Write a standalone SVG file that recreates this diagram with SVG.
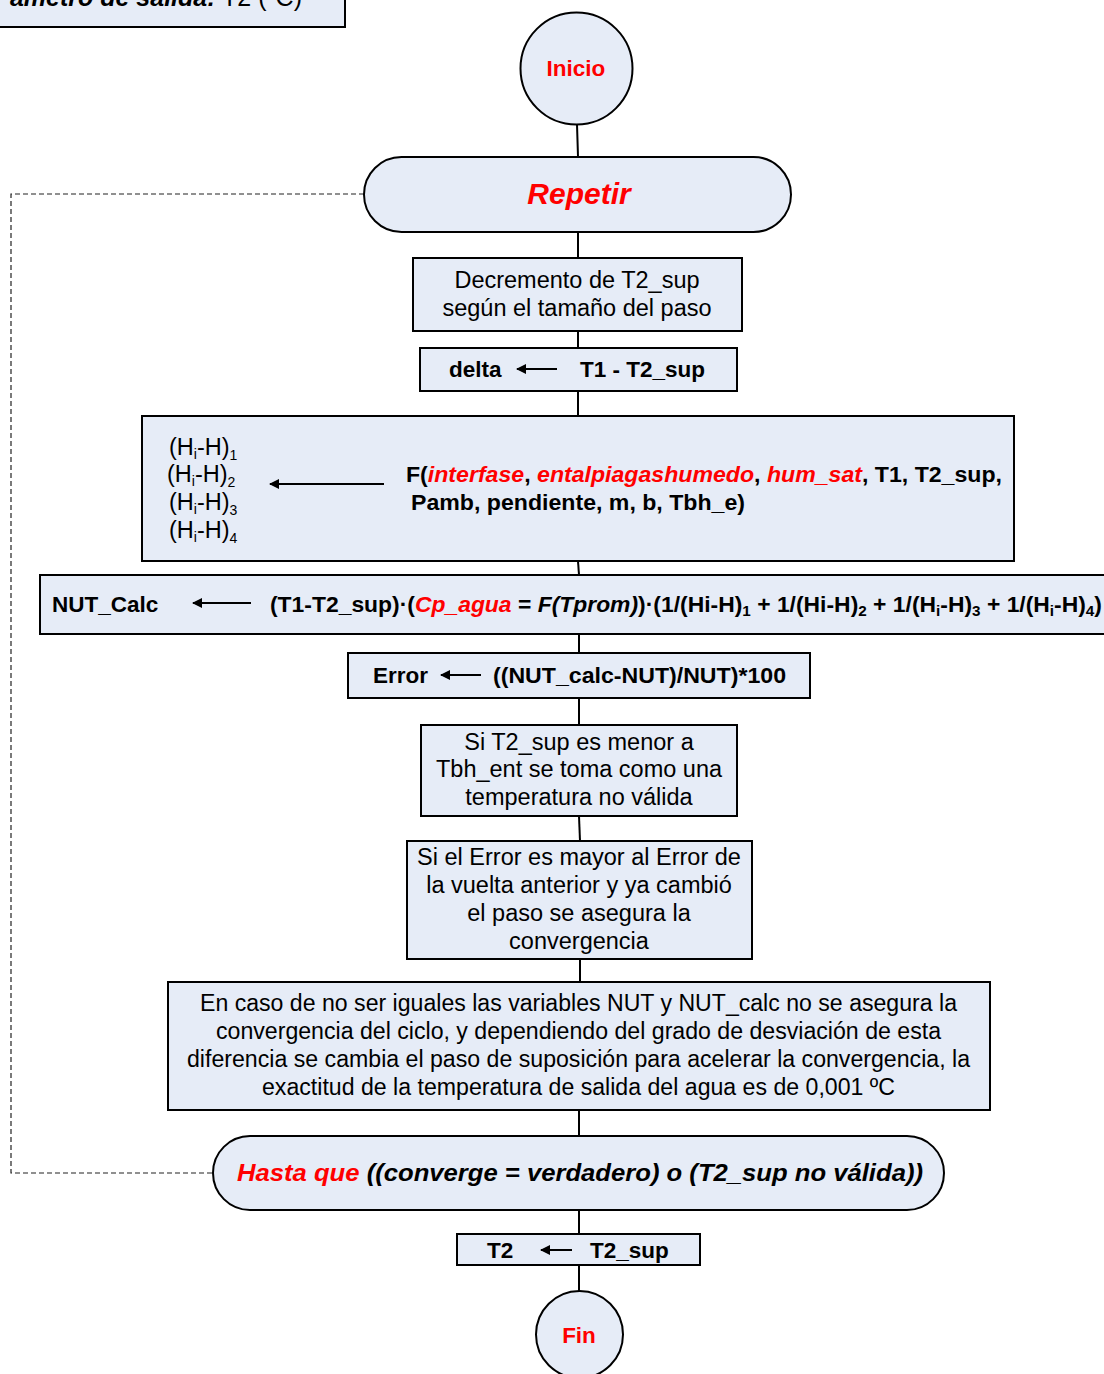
<svg xmlns="http://www.w3.org/2000/svg" width="1104" height="1374" viewBox="0 0 1104 1374">
  <style>
    .box { fill: #E6ECF7; stroke: #000; stroke-width: 2; }
    .flow { stroke: #000; stroke-width: 2; fill: none; }
    .loop { stroke: #222; stroke-width: 1.2; fill: none; stroke-dasharray: 5 3; }
    .asg { stroke: #000; stroke-width: 2; fill: none; marker-end: url(#head); }
    text { font-family: "Liberation Sans", Arial, sans-serif; fill: #000; }
    .reg { font-size: 23.5px; }
    .b { font-size: 22.5px; font-weight: bold; }
    .red { fill: #FF0000; }
    .it { font-style: italic; }
    .mid { text-anchor: middle; }
  </style>
  <defs>
    <marker id="head" viewBox="0 0 10 10" refX="9" refY="5" markerWidth="5" markerHeight="5" orient="auto" markerUnits="strokeWidth">
      <path d="M0,0 L10,5 L0,10 z" fill="#000"/>
    </marker>
  </defs>

  <!-- vertical flow and the dashed loop back to "Repetir" -->
  <g id="connectors">
    <line class="flow" x1="577" y1="124" x2="578" y2="157"/>
    <line class="flow" x1="578" y1="232" x2="578" y2="258"/>
    <line class="flow" x1="578" y1="331" x2="578" y2="348"/>
    <line class="flow" x1="578" y1="391" x2="578" y2="416"/>
    <line class="flow" x1="578" y1="561" x2="579" y2="575"/>
    <line class="flow" x1="579" y1="634" x2="579" y2="653"/>
    <line class="flow" x1="579" y1="698" x2="579" y2="725"/>
    <line class="flow" x1="579" y1="816" x2="580" y2="841"/>
    <line class="flow" x1="580" y1="959" x2="580" y2="982"/>
    <line class="flow" x1="579" y1="1110" x2="579" y2="1136"/>
    <line class="flow" x1="579" y1="1210" x2="579" y2="1291"/>
    <polyline class="loop" points="364,194 11,194 11,1173 213,1173"/>
  </g>

  <!-- output parameter box (top left) -->
  <g id="param-salida">
    <rect class="box" x="-10" y="-30" width="355" height="57"/>
    <text x="302" y="6" style="font-size:25px" text-anchor="end"><tspan font-weight="bold" font-style="italic">ámetro de salida:</tspan> T2 (ºC)</text>
  </g>

  <g id="inicio">
    <circle class="box" cx="576.5" cy="68.5" r="56"/>
    <text class="b red mid" x="576" y="76">Inicio</text>
  </g>

  <g id="repetir">
    <rect class="box" x="364" y="157" width="427" height="75" rx="37.5" ry="37.5"/>
    <text class="red mid it" x="579" y="204" style="font-size:30px;font-weight:bold">Repetir</text>
  </g>

  <g id="decremento">
    <rect class="box" x="413" y="258" width="329" height="73"/>
    <text class="reg mid" x="577" y="288">Decremento de T2_sup</text>
    <text class="reg mid" x="577" y="316">según el tamaño del paso</text>
  </g>

  <g id="delta">
    <rect class="box" x="420" y="348" width="317" height="43"/>
    <text class="b" x="449" y="377">delta</text>
    <line class="asg" x1="557" y1="369" x2="517" y2="369"/>
    <text class="b" x="580" y="377">T1 - T2_sup</text>
  </g>

  <g id="entalpias">
    <rect class="box" x="142" y="416" width="872" height="145"/>
    <text class="reg" x="169" y="455">(H<tspan font-size="14" dy="4">i</tspan><tspan dy="-4">-H)</tspan><tspan font-size="14" dy="5">1</tspan></text>
    <text class="reg" x="167" y="482">(H<tspan font-size="14" dy="4">i</tspan><tspan dy="-4">-H)</tspan><tspan font-size="14" dy="5">2</tspan></text>
    <text class="reg" x="169" y="510">(H<tspan font-size="14" dy="4">i</tspan><tspan dy="-4">-H)</tspan><tspan font-size="14" dy="5">3</tspan></text>
    <text class="reg" x="169" y="538">(H<tspan font-size="14" dy="4">i</tspan><tspan dy="-4">-H)</tspan><tspan font-size="14" dy="5">4</tspan></text>
    <line class="asg" x1="384" y1="484" x2="270" y2="484"/>
    <text class="b" x="406" y="482" textLength="596" lengthAdjust="spacingAndGlyphs">F(<tspan class="red it">interfase</tspan>, <tspan class="red it">entalpiagashumedo</tspan>, <tspan class="red it">hum_sat</tspan>, T1, T2_sup,</text>
    <text class="b" x="411" y="510" textLength="334" lengthAdjust="spacingAndGlyphs">Pamb, pendiente, m, b, Tbh_e)</text>
  </g>

  <g id="nut-calc">
    <rect class="box" x="40" y="575" width="1080" height="59"/>
    <text class="b" x="52" y="612">NUT_Calc</text>
    <line class="asg" x1="251" y1="603" x2="193" y2="603"/>
    <text class="b" x="270" y="612" textLength="832" lengthAdjust="spacingAndGlyphs">(T1-T2_sup)·(<tspan class="red it">Cp_agua</tspan> = <tspan class="it">F(Tprom)</tspan>)·(1/(Hi-H)<tspan font-size="15" dy="4">1</tspan><tspan dy="-4"> + 1/(Hi-H)</tspan><tspan font-size="15" dy="4">2</tspan><tspan dy="-4"> + 1/(H</tspan><tspan font-size="15" dy="4">i</tspan><tspan dy="-4">-H)</tspan><tspan font-size="15" dy="4">3</tspan><tspan dy="-4"> + 1/(H</tspan><tspan font-size="15" dy="4">i</tspan><tspan dy="-4">-H)</tspan><tspan font-size="15" dy="4">4</tspan><tspan dy="-4">)</tspan></text>
  </g>

  <g id="error">
    <rect class="box" x="348" y="653" width="462" height="45"/>
    <text class="b" x="373" y="683">Error</text>
    <line class="asg" x1="481" y1="675" x2="441" y2="675"/>
    <text class="b" x="493" y="683" textLength="293" lengthAdjust="spacingAndGlyphs">((NUT_calc-NUT)/NUT)*100</text>
  </g>

  <g id="validez">
    <rect class="box" x="421" y="725" width="316" height="91"/>
    <text class="reg mid" x="579" y="750">Si T2_sup es menor a</text>
    <text class="reg mid" x="579" y="777">Tbh_ent se toma como una</text>
    <text class="reg mid" x="579" y="805">temperatura no válida</text>
  </g>

  <g id="convergencia">
    <rect class="box" x="407" y="841" width="345" height="118"/>
    <text class="reg mid" x="579" y="865">Si el Error es mayor al Error de</text>
    <text class="reg mid" x="579" y="893">la vuelta anterior y ya cambió</text>
    <text class="reg mid" x="579" y="921">el paso se asegura la</text>
    <text class="reg mid" x="579" y="949">convergencia</text>
  </g>

  <g id="ajuste-paso">
    <rect class="box" x="168" y="982" width="822" height="128"/>
    <text class="reg" x="200" y="1011" textLength="757" lengthAdjust="spacingAndGlyphs">En caso de no ser iguales las variables NUT y NUT_calc no se asegura la</text>
    <text class="reg" x="216" y="1039" textLength="725" lengthAdjust="spacingAndGlyphs">convergencia del ciclo, y dependiendo del grado de desviación de esta</text>
    <text class="reg" x="187" y="1067" textLength="783" lengthAdjust="spacingAndGlyphs">diferencia se cambia el paso de suposición para acelerar la convergencia, la</text>
    <text class="reg" x="262" y="1095" textLength="633" lengthAdjust="spacingAndGlyphs">exactitud de la temperatura de salida del agua es de 0,001 ºC</text>
  </g>

  <g id="hasta-que">
    <rect class="box" x="213" y="1136" width="731" height="74" rx="37" ry="37"/>
    <text class="b it" x="237" y="1181" style="font-size:24px" textLength="686" lengthAdjust="spacingAndGlyphs"><tspan class="red">Hasta que</tspan> ((converge = verdadero) o (T2_sup no válida))</text>
  </g>

  <g id="asignar-t2">
    <rect class="box" x="457" y="1234" width="243" height="31"/>
    <text class="b" x="487" y="1258">T2</text>
    <line class="asg" x1="572" y1="1250" x2="541" y2="1250"/>
    <text class="b" x="590" y="1258">T2_sup</text>
  </g>

  <g id="fin">
    <circle class="box" cx="579.5" cy="1334.5" r="43.5"/>
    <text class="b red mid" x="579" y="1343">Fin</text>
  </g>
</svg>
